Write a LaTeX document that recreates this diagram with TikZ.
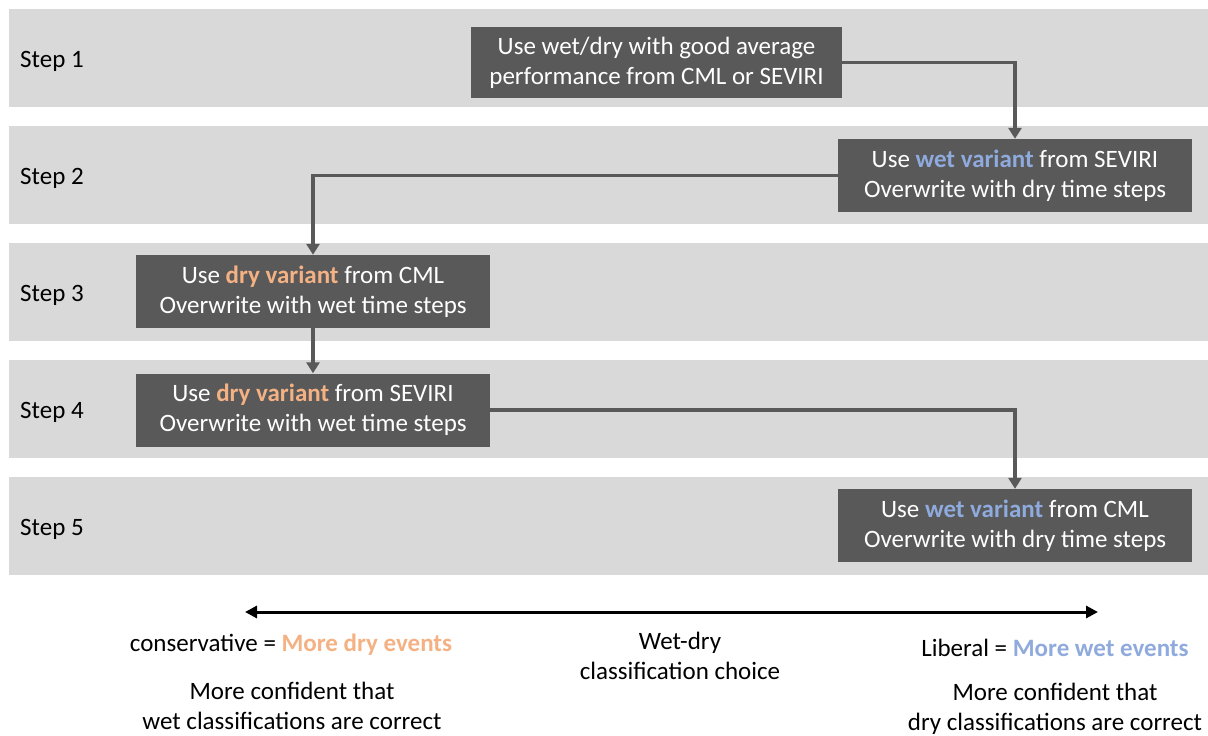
\documentclass[tikz,border=0pt]{standalone}
\usepackage{fontspec}
\setmainfont{Carlito}
\usepackage{xcolor}
\usetikzlibrary{arrows.meta}
\definecolor{bandgray}{HTML}{D9D9D9}
\definecolor{boxgray}{HTML}{595959}
\definecolor{dryorange}{HTML}{F4B183}
\definecolor{wetblue}{HTML}{8FAADC}
\newcommand{\dry}[1]{\textcolor{dryorange}{\textbf{#1}}}
\newcommand{\wet}[1]{\textcolor{wetblue}{\textbf{#1}}}
\tikzset{
  band/.style={fill=bandgray, draw=none},
  stepbox/.style={fill=boxgray, text=white, align=center, inner sep=0pt,
    minimum width=354pt, minimum height=73pt, font=\fontsize{25}{30}\selectfont},
  steplabel/.style={anchor=west, inner sep=0pt, font=\fontsize{25}{30}\selectfont},
  flow/.style={draw=boxgray, line width=3.5pt, -{Triangle[length=11pt,width=13pt]}},
  note/.style={align=center, font=\fontsize{25}{30}\selectfont},
}
\begin{document}
\begin{tikzpicture}[x=1pt, y=-1pt]
    \useasboundingbox (0,0) rectangle (1208,736);
    % grey step rows
    \foreach \i/\top in {1/9, 2/126, 3/243, 4/360, 5/477} {
        \fill[band] (9,\top) rectangle (1208,\top+98);
        \node[steplabel] (lab\i) at (20,\top+52) {Step \i};
    }
    % boxes
    \node[stepbox, minimum width=371pt, minimum height=71pt] (s1) at (656.5,62.5)
        {Use wet/dry with good average\\performance from CML or SEVIRI};
    \node[stepbox] (s2) at (1015,175.5) {Use \wet{wet variant} from SEVIRI\\Overwrite with dry time steps};
    \node[stepbox] (s3) at (313,291.5) {Use \dry{dry variant} from CML\\Overwrite with wet time steps};
    \node[stepbox] (s4) at (313,410) {Use \dry{dry variant} from SEVIRI\\Overwrite with wet time steps};
    \node[stepbox] (s5) at (1015,525.5) {Use \wet{wet variant} from CML\\Overwrite with dry time steps};
    % connectors
    \draw[flow] (s1.east) -| (s2.north);
    \draw[flow] (s2.west) -| (s3.north);
    \draw[flow] (s3.south) -- (s4.north);
    \draw[flow] (s4.east) -| (s5.north);
    % classification scale
    \coordinate (cons) at (245,612);
    \coordinate (lib) at (1098,612);
    \draw[line width=3pt, {Triangle[length=12pt,width=12pt]}-{Triangle[length=12pt,width=12pt]}] (cons) -- (lib);
    \node[note] (choice) at (680,656) {Wet-dry\\classification choice};
    \node[note] (left) at (291,645) {conservative = \dry{More dry events}};
    \node[note] (right) at (1055,648) {Liberal = \wet{More wet events}};
    \node[note] (leftconf) at (292,706) {More confident that\\wet classifications are correct};
    \node[note] (rightconf) at (1055,709) {More confident that\\dry classifications are correct};
\end{tikzpicture}
\end{document}
